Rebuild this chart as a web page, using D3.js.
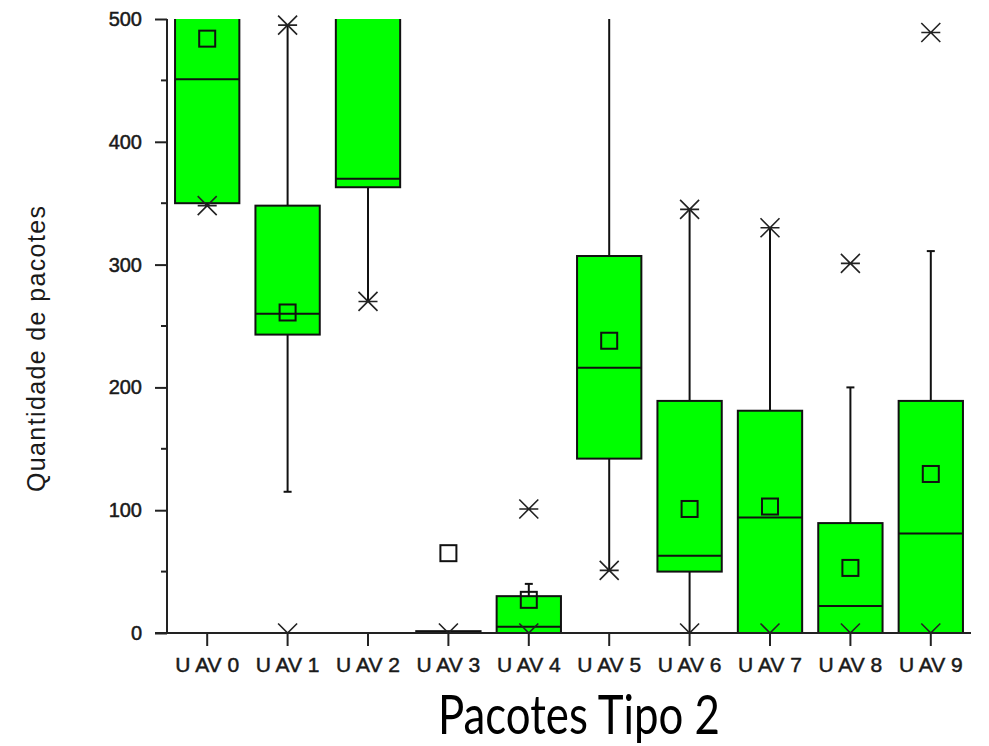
<!DOCTYPE html>
<html>
<head>
<meta charset="utf-8">
<script src="https://cdn.jsdelivr.net/npm/d3@7"></script>
<style>
  html, body { margin: 0; padding: 0; background: #fff; }
  svg { display: block; }
</style>
</head>
<body>
<svg id="chart" width="989" height="746"></svg>
<script>
// ---- data ----
const categories = ["U AV 0", "U AV 1", "U AV 2", "U AV 3", "U AV 4", "U AV 5", "U AV 6", "U AV 7", "U AV 8", "U AV 9"];
const q1Values      = [350, 243, 363, 0,   0,   142, 50,  0,   0,   0];
const medianValues  = [451, 260, 370, 0,   5,   216, 63,  94,  22,  81];
const q3Values      = [560, 348, 560, 1.5, 30,  307, 189, 181, 89.5, 189];
const meanValues    = [484, 261, 540, 65,  27,  238, 101, 103, 53,  129.5];
const whiskerLow    = [348, 115, 270, 0,   0,   51,  0,   0,   0,   0];
const whiskerHigh   = [600, 495, 620, 1.5, 40,  560, 345, 330, 200, 311];
const starLow       = [348, 0,   270, 0,   0,   51,  0,   0,   0,   0];
const starHigh      = [640, 495, 660, 600, 101, 620, 345, 330, 301, 489];
const yTicks        = [0, 100, 200, 300, 400, 500];
const yMinorTicks   = [50, 150, 250, 350, 450];
const yTitle = "Quantidade de pacotes";
const chartTitle = "Pacotes Tipo 2";

const data = categories.map((c, i) => ({
  cat: c, q1: q1Values[i], med: medianValues[i], q3: q3Values[i], mean: meanValues[i],
  wLo: whiskerLow[i], wHi: whiskerHigh[i], sLo: starLow[i], sHi: starHigh[i]
}));

// ---- layout ----
const svg = d3.select("#chart");
const mLeft = 167, mRight = 971, mTop = 19, mBottom = 633;
const x = d3.scaleBand().domain(categories).range([mLeft, mRight]).padding(0);
const y = d3.scaleLinear().domain([0, 500]).range([mBottom, mTop]);
const boxW = x.bandwidth() * 0.8;
const cx = d => x(d.cat) + x.bandwidth() / 2;
const ink = "#111";
const axisInk = "#222";
const labelFont = "Liberation Sans, Arial, sans-serif";

const defs = svg.append("defs");
defs.append("clipPath").attr("id", "plotClip")
  .append("rect").attr("x", mLeft).attr("y", mTop).attr("width", mRight - mLeft).attr("height", mBottom - mTop);
defs.append("clipPath").attr("id", "markClip")
  .append("rect").attr("x", mLeft).attr("y", 0).attr("width", mRight - mLeft).attr("height", mBottom);

const plot = svg.append("g").attr("clip-path", "url(#plotClip)");

// whiskers
plot.selectAll(".wLo").data(data).join("line")
  .attr("x1", cx).attr("x2", cx)
  .attr("y1", d => y(d.q1)).attr("y2", d => y(d.wLo))
  .attr("stroke", ink).attr("stroke-width", 2);
plot.selectAll(".wHi").data(data).join("line")
  .attr("x1", cx).attr("x2", cx)
  .attr("y1", d => y(d.q3)).attr("y2", d => y(d.wHi))
  .attr("stroke", ink).attr("stroke-width", 2);
// caps
plot.selectAll(".capLo").data(data.filter(d => d.wLo > 0 && d.wLo < d.q1 && d.wLo !== d.sLo)).join("line")
  .attr("x1", d => cx(d) - 4).attr("x2", d => cx(d) + 4)
  .attr("y1", d => y(d.wLo)).attr("y2", d => y(d.wLo))
  .attr("stroke", ink).attr("stroke-width", 2);
plot.selectAll(".capHi").data(data.filter(d => d.wHi > d.q3 && d.wHi !== d.sHi)).join("line")
  .attr("x1", d => cx(d) - 4).attr("x2", d => cx(d) + 4)
  .attr("y1", d => y(d.wHi)).attr("y2", d => y(d.wHi))
  .attr("stroke", ink).attr("stroke-width", 2);

// boxes
plot.selectAll(".box").data(data).join("rect")
  .attr("x", d => cx(d) - boxW / 2).attr("width", boxW)
  .attr("y", d => y(d.q3)).attr("height", d => Math.max(0.5, y(d.q1) - y(d.q3)))
  .attr("fill", "#00ff00").attr("stroke", ink).attr("stroke-width", 2);
// medians
plot.selectAll(".med").data(data).join("line")
  .attr("x1", d => cx(d) - boxW / 2).attr("x2", d => cx(d) + boxW / 2)
  .attr("y1", d => y(d.med)).attr("y2", d => y(d.med))
  .attr("stroke", ink).attr("stroke-width", 2);

// markers (stars and means)
const marks = svg.append("g").attr("clip-path", "url(#markClip)");
const starPath = (px, py) => {
  const r = 9.5;
  return `M${px - r},${py - r}L${px + r},${py + r}M${px - r},${py + r}L${px + r},${py - r}M${px - r},${py}L${px + r},${py}`;
};
const stars = [];
data.forEach(d => { stars.push({ d, v: d.sLo }); stars.push({ d, v: d.sHi }); });
marks.selectAll(".star").data(stars.filter(s => s.v <= 500)).join("path")
  .attr("d", s => starPath(cx(s.d), y(s.v)))
  .attr("fill", "none").attr("stroke", "#222").attr("stroke-width", 1.6);
marks.selectAll(".mean").data(data.filter(d => d.mean <= 500)).join("rect")
  .attr("x", d => cx(d) - 8).attr("y", d => y(d.mean) - 8)
  .attr("width", 16).attr("height", 16)
  .attr("fill", "none").attr("stroke", ink).attr("stroke-width", 2);

// ---- axes ----
const yAxis = d3.axisLeft(y).tickValues(yTicks).tickSize(12).tickPadding(13).tickFormat(d3.format("d"));
const gy = svg.append("g").attr("transform", `translate(${mLeft},0)`).call(yAxis);
gy.select(".domain").attr("stroke", axisInk).attr("stroke-width", 2).attr("d", `M0,${mTop}V${mBottom}`);
gy.selectAll(".tick line").attr("stroke", axisInk).attr("stroke-width", 2);
gy.selectAll(".tick text").attr("font-family", labelFont)
  .attr("font-size", 20).attr("fill", "#1a1a1a")
  .attr("stroke", "#1a1a1a").attr("stroke-width", 0.5);
svg.append("g").selectAll("line").data(yMinorTicks).join("line")
  .attr("x1", mLeft - 6).attr("x2", mLeft).attr("y1", d => y(d)).attr("y2", d => y(d))
  .attr("stroke", axisInk).attr("stroke-width", 2);

const xAxis = d3.axisBottom(x).tickSize(13).tickPadding(11);
const gx = svg.append("g").attr("transform", `translate(0,${mBottom})`).call(xAxis);
gx.select(".domain").attr("stroke", axisInk).attr("stroke-width", 2).attr("d", `M${mLeft - 12},0H${mRight}`);
gx.selectAll(".tick line").attr("stroke", axisInk).attr("stroke-width", 2);
gx.selectAll(".tick text").attr("font-family", labelFont)
  .attr("font-size", 21).attr("fill", "#1a1a1a")
  .attr("stroke", "#1a1a1a").attr("stroke-width", 0.5);

// titles
svg.append("text")
  .attr("transform", `translate(45,349) rotate(-90)`)
  .attr("text-anchor", "middle")
  .attr("font-family", labelFont)
  .attr("font-size", 25).attr("fill", "#1a1a1a")
  .attr("textLength", 286).attr("lengthAdjust", "spacing")
  .text(yTitle);

svg.append("text")
  .attr("transform", "translate(579,734) scale(1,1.25)")
  .attr("text-anchor", "middle")
  .attr("font-family", "Lato, sans-serif")
  .attr("font-size", 44).attr("fill", "#000")
  .attr("textLength", 282).attr("lengthAdjust", "spacingAndGlyphs")
  .text(chartTitle);
</script>
</body>
</html>
